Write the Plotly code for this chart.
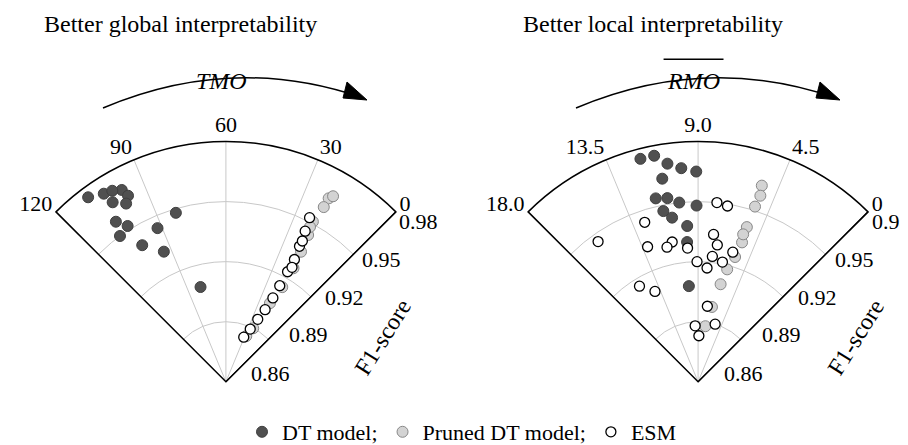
import plotly.graph_objects as go

# TMO panel (value 0..120), RMO panel (value 0..18); radial = F1-score
dt_tmo = [109, 104, 103, 98, 97, 99, 106, 103, 108, 102, 92, 82, 94, 80, 101]
dt_tmo_f1 = [0.975, 0.972, 0.966, 0.969, 0.965, 0.962, 0.957, 0.952, 0.950, 0.940, 0.944, 0.948, 0.932, 0.909, 0.971]
pr_tmo = [21, 21, 22, 21, 20, 19, 19, 21, 24, 28, 20, 22]
pr_tmo_f1 = [0.965, 0.960, 0.951, 0.944, 0.935, 0.926, 0.915, 0.905, 0.890, 0.885, 0.967, 0.948]
esm_tmo = [24, 23, 22, 21, 21, 21, 21, 22, 24, 27, 31, 22, 20]
esm_tmo_f1 = [0.952, 0.945, 0.937, 0.930, 0.923, 0.915, 0.908, 0.901, 0.895, 0.889, 0.884, 0.940, 0.926]

dt_rmo = [11.9, 11.2, 10.6, 9.9, 9.1, 11.0, 10.9, 11.6, 10.2, 11.3, 10.8, 9.8, 9.9, 9.1, 10.1]
dt_rmo_f1 = [0.975, 0.975, 0.970, 0.967, 0.965, 0.963, 0.953, 0.954, 0.950, 0.947, 0.943, 0.938, 0.930, 0.948, 0.908]
pr_rmo = [5.4, 5.4, 5.5, 5.5, 5.7, 6.1, 6.9, 7.5, 5.3, 5.6, 6.4]
pr_rmo_f1 = [0.963, 0.952, 0.941, 0.933, 0.925, 0.918, 0.898, 0.888, 0.958, 0.937, 0.910]
esm_rmo = [16.1, 13.1, 11.1, 7.8, 7.1, 7.8, 7.4, 7.7, 15.3, 14.1, 9.1, 8.1, 6.7, 9.9, 12.7, 7.6, 9.6, 8.8, 5.7, 6.0, 11.6]
esm_rmo_f1 = [0.946, 0.932, 0.931, 0.950, 0.949, 0.934, 0.929, 0.923, 0.916, 0.910, 0.920, 0.917, 0.921, 0.927, 0.944, 0.898, 0.888, 0.883, 0.890, 0.927, 0.929]

tmo_ticks = ["0", "30", "60", "90", "120"]
rmo_ticks = ["0", "4.5", "9.0", "13.5", "18.0"]
f1_ticks = [0.86, 0.89, 0.92, 0.95, 0.98]

FONT = "Liberation Serif"


def ang(vals, vmax):
    return [45 + v * 90 / vmax for v in vals]


styles = {
    "DT model;": dict(color="#505050", size=11, line=dict(color="#404040", width=1)),
    "Pruned DT model;": dict(color="#d3d3d3", size=11, line=dict(color="#888888", width=1)),
    "ESM": dict(color="white", size=10, line=dict(color="black", width=1.3)),
}

fig = go.Figure()
sets = [
    ("polar", 120, [(dt_tmo, dt_tmo_f1), (pr_tmo, pr_tmo_f1), (esm_tmo, esm_tmo_f1)]),
    ("polar2", 18, [(dt_rmo, dt_rmo_f1), (pr_rmo, pr_rmo_f1), (esm_rmo, esm_rmo_f1)]),
]
for i, (sub, vmax, series) in enumerate(sets):
    for name, (th, r) in zip(styles, series):
        fig.add_trace(go.Scatterpolar(
            theta=ang(th, vmax), r=r, mode="markers", name=name, subplot=sub,
            marker=styles[name], showlegend=(i == 0)))


def polar(domain_x, ticks):
    return dict(
        domain=dict(x=domain_x, y=[0.16, 0.70]),
        sector=[45, 135],
        bgcolor="white",
        radialaxis=dict(range=[0.86, 0.98], tickvals=f1_ticks, showticklabels=False,
                        angle=45, showline=True, linecolor="black",
                        gridcolor="#c8c8c8", ticks=""),
        angularaxis=dict(tickvals=[45, 67.5, 90, 112.5, 135], ticktext=ticks, linecolor="black", linewidth=1.5,
                         gridcolor="#c8c8c8", ticks="", tickfont=dict(size=22, family=FONT, color="black")),
    )


fig.update_layout(
    width=908, height=445, paper_bgcolor="white", margin=dict(l=0, r=0, t=0, b=0),
    font=dict(family=FONT, size=22, color="black"),
    polar=polar([0.05, 0.43], tmo_ticks),
    polar2=polar([0.57, 0.95], rmo_ticks),
    legend=dict(orientation="h", x=0.5, xanchor="center", y=0.0, yanchor="bottom",
                font=dict(size=22, family=FONT), itemwidth=30, tracegroupgap=0),
)

ann = [
    (0.19, 0.965, "Better global interpretability", 0),
    (0.71, 0.965, "Better local interpretability", 0),
    (0.235, 0.835, "<i>TMO</i>", 0),
    (0.755, 0.835, "<i>RMO</i>", 0),
    (0.413, 0.26, "F1-score", -58),
    (0.934, 0.26, "F1-score", -58),
]
for x, y, t, a in ann:
    fig.add_annotation(x=x, y=y, xref="paper", yref="paper", text=t, showarrow=False,
                       xanchor="center", yanchor="middle",
                       textangle=a, font=dict(size=24, family=FONT))

# radial tick labels, horizontal, beside the right edge of each sector
label_px = [(262, 365), (300, 326), (336, 289), (373, 251), (410, 213)]
for off in [0, 473]:
    for val, (px, py) in zip(f1_ticks, label_px):
        fig.add_annotation(x=(px + off) / 908, y=1 - py / 445, xref="paper", yref="paper",
                           text=f"{val:.2f}", showarrow=False, xanchor="center", yanchor="middle",
                           font=dict(size=22, family=FONT))

# overline on RMO and curved arrows
fig.add_shape(type="line", xref="paper", yref="paper", x0=0.722, x1=0.788, y0=0.885, y1=0.885,
              line=dict(color="black", width=1.5))
for off in [0, 473]:
    x0, x1 = 95 + off, 355 + off
    fig.add_shape(type="path", xref="paper", yref="paper",
                  path=f"M {x0/908},{1-100/445} Q {(x0+x1)/2/908},{1-45/445} {x1/908},{1-90/445}",
                  line=dict(color="black", width=1.5))
    fig.add_shape(type="path", xref="paper", yref="paper",
                  path=f"M {(x1-16)/908},{1-74/445} L {(x1+4)/908},{1-92/445} L {(x1-20)/908},{1-90/445} Z",
                  fillcolor="black", line=dict(color="black", width=1))

fig.write_html("out.html")
